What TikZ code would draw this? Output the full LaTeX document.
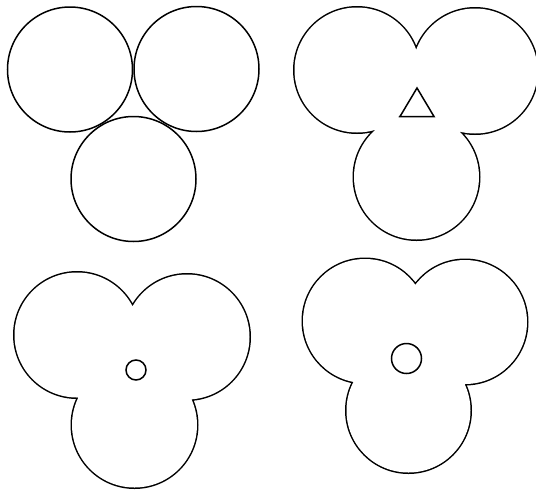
\documentclass[tikz,border=0pt]{standalone}
\begin{document}
\begin{tikzpicture}[x=1pt, y=-1pt, line width=1.5pt,
  borde/.style={line width=3pt},
  tapa/.style={fill=white}]
  \useasboundingbox (0,0) rectangle (536,491);
  % tres circulos que se tocan
  \draw (70,69.5) circle (62.5pt);
  \draw (196.5,69) circle (62.5pt);
  \draw (133.5,179) circle (62.5pt);
  % union con hueco triangular
  \begin{scope}
    \draw[borde] (357,70) circle (62.5pt) (475,71) circle (62.5pt) (416.5,177) circle (62.5pt);
    \fill[tapa] (357,70) circle (62.5pt) (475,71) circle (62.5pt) (416.5,177) circle (62.5pt);
    \draw[tapa, line join=miter] (417,88) -- (400,116.5) -- (434,116.5) -- cycle;
  \end{scope}
  % union con hueco chico
  \begin{scope}
    \draw[borde] (77,335) circle (62.5pt) (187,337) circle (62.5pt) (134.5,425) circle (62.5pt);
    \fill[tapa] (77,335) circle (62.5pt) (187,337) circle (62.5pt) (134.5,425) circle (62.5pt);
    \draw (136,370) circle (10pt);
  \end{scope}
  % union con hueco redondo
  \begin{scope}
    \draw[borde] (365,321) circle (62pt) (465,322) circle (62pt) (408.5,410.5) circle (62pt);
    \fill[tapa] (365,321) circle (62pt) (465,322) circle (62pt) (408.5,410.5) circle (62pt);
    \draw (406.5,358.5) circle (15pt);
  \end{scope}
\end{tikzpicture}
\end{document}
